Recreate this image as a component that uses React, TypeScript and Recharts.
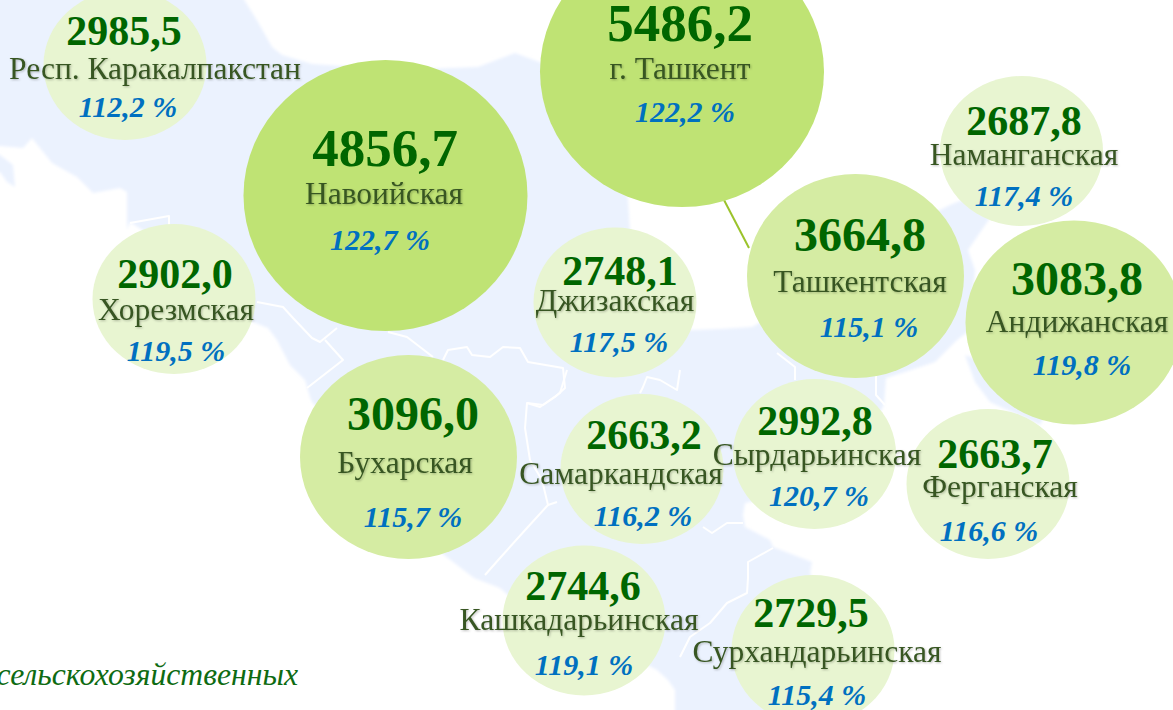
import { ScatterChart, Scatter, XAxis, YAxis, ZAxis, ReferenceLine, Polygon } from "recharts";

// region stats
const REGIONS = ["Респ. Каракалпакстан", "Навоийская", "г. Ташкент", "Наманганская", "Ташкентская", "Андижанская", "Хорезмская", "Джизакская", "Бухарская", "Самаркандская", "Сырдарьинская", "Ферганская", "Кашкадарьинская", "Сурхандарьинская"];
const VALUES = ["2985,5", "4856,7", "5486,2", "2687,8", "3664,8", "3083,8", "2902,0", "2748,1", "3096,0", "2663,2", "2992,8", "2663,7", "2744,6", "2729,5"];
const GROWTH = ["112,2 %", "122,7 %", "122,2 %", "117,4 %", "115,1 %", "119,8 %", "119,5 %", "117,5 %", "115,7 %", "116,2 %", "120,7 %", "116,6 %", "119,1 %", "115,4 %"];
const BANDS = [1, 3, 3, 1, 2, 2, 1, 1, 2, 1, 1, 1, 1, 1];

// bubble centres on the map
const MAP_X = [125, 385.5, 682, 1021.5, 855.5, 1074, 174, 615, 408.5, 642, 814.5, 988, 584, 813];
const MAP_Y = [65, 195.5, 71.5, 151, 276, 322.5, 299, 302.5, 457, 469, 454, 484, 620.5, 650];

// map backdrop outlines
const COUNTRY_X = [-10, 238, 258, 272, 282, 312, 400, 478, 515, 542, 600, 628, 630, 640, 660, 693, 720, 752, 800, 900, 950, 975, 990, 968, 975, 970, 957, 935, 905, 886, 884, 870, 760, 745, 743, 745, 770, 773, 812, 810, 840, 835, 675, 675, 668, 657, 560, 508, 500, 474, 444, 312, 310, 305, 290, 277, 268, 253, 220, 130, 127, 127, 120, 93, 77, 52, 40, 32, 23, -10];
const COUNTRY_Y = [-10, -10, 22, 47, 55, 64, 70, 67, 53, 63, 100, 200, 232, 280, 330, 330, 329, 327, 300, 230, 205, 195, 218, 250, 270, 330, 340, 362, 372, 378, 405, 430, 500, 503, 515, 527, 540, 547, 562, 573, 640, 720, 720, 690, 680, 670, 620, 595, 588, 578, 555, 402, 397, 380, 365, 340, 328, 322, 280, 222, 230, 192, 188, 193, 177, 163, 148, 138, 148, 145];
const ARAL_X = [-10, 0, 13, 15, 7, 0, -10];
const ARAL_Y = [150, 155, 165, 187, 182, 172, 172];
const VALLEY_X = [965, 975, 990, 1040, 1052, 1040];
const VALLEY_Y = [355, 382, 402, 425, 400, 380];
const BORDER_X = [
  [130, 169, 169],
  [257, 283, 293, 312, 320, 337],
  [325, 343, 307],
  [388, 407, 433],
  [443, 448, 467, 472, 490, 503, 520, 528, 563, 565, 555, 543, 527, 525, 530, 542, 548, 527, 500, 485],
  [548, 557],
  [527, 540, 560, 567],
  [640, 643, 647, 660, 677, 680],
  [703, 712, 727, 743],
  [773, 748, 748, 747, 727, 710, 690, 680],
  [777, 795, 795],
  [876, 876, 885],
];
const BORDER_Y = [
  [223, 216, 227],
  [302, 307, 318, 338, 342, 328],
  [340, 360, 388],
  [332, 337, 357],
  [360, 350, 347, 355, 357, 347, 348, 362, 368, 388, 397, 405, 403, 428, 460, 480, 505, 528, 558, 575],
  [505, 502],
  [403, 407, 393, 370],
  [393, 387, 377, 380, 390, 370],
  [527, 533, 523, 523],
  [548, 562, 578, 593, 603, 623, 637, 657],
  [353, 367, 380],
  [375, 395, 405],
];
const LEADER = [{ x: 724, y: 200 }, { x: 749, y: 248 }];

// text anchors, same order as REGIONS: centre x, baseline y
const VALUE_POS = [[124, 45], [385, 166], [680, 41], [1024, 135], [860, 251], [1077, 295], [175, 288], [620, 285], [413, 430], [644, 449], [815, 435], [995, 468], [583, 600], [811, 627]];
const NAME_POS = [[155, 79], [384, 204], [680, 79], [1024, 165], [860, 292], [1077, 332], [176, 320], [615, 311], [405, 473], [621, 484], [817, 465], [1000, 497], [579, 630], [817, 662]];
const PCT_POS = [[128, 117], [380, 250], [685, 122], [1024, 206], [869, 337], [1082, 375], [176, 361], [619, 352], [413, 527], [643, 526], [819, 506], [989, 541], [584, 675], [817, 705]];

const BAND_FILL: Record<number, string> = { 1: "#E8F5D1", 2: "#D5ECA3", 3: "#BFE374" };
const BAND_WEIGHT: Record<number, number> = { 1: 1, 2: 2, 3: 3.665 };
const VALUE_FONT: Record<number, number> = { 1: 42, 2: 48, 3: 53 };
const NAME_FONT = 31.5;
const SERIF = "'Liberation Serif', 'Times New Roman', serif";

const rows = REGIONS.map((name, i) => ({
  name,
  value: VALUES[i],
  growth: GROWTH[i],
  band: BANDS[i],
  z: BAND_WEIGHT[BANDS[i]],
  x: MAP_X[i],
  y: MAP_Y[i],
  i,
}));

const outline = (xs: number[], ys: number[]) => xs.map((x, i) => ({ x, y: ys[i] }));

function MapFill({ points }: any) {
  return <Polygon points={points} fill="#EBF2FE" stroke="none" filter="url(#mapBlur)" />;
}

// stretched a little sideways, the picture was scaled non-uniformly
function Bubble({ cx, cy, width, payload }: any) {
  const r = width / 2;
  return <ellipse cx={cx} cy={cy} rx={r + 6.5} ry={r} fill={BAND_FILL[payload.band]} />;
}

function Labels({ payload }: any) {
  const { i, band, value, name, growth } = payload;
  return (
    <g fontFamily={SERIF} textAnchor="middle">
      <text x={VALUE_POS[i][0]} y={VALUE_POS[i][1]} fontSize={VALUE_FONT[band]} fontWeight="bold" fill="#006600">{value}</text>
      <text x={NAME_POS[i][0]} y={NAME_POS[i][1]} fontSize={NAME_FONT} fill="#375623" filter="url(#soft)">{name}</text>
      <text x={PCT_POS[i][0]} y={PCT_POS[i][1]} fontSize={30} fontWeight="bold" fontStyle="italic" fill="#0070C0">{growth}</text>
    </g>
  );
}

function BottomNote() {
  return (
    <text x={298} y={685} textAnchor="end" fontFamily={SERIF} fontStyle="italic" fontSize={31.7} fill="#0E6B12">
      сельскохозяйственных
    </text>
  );
}

const noDot = () => <g />;

export default function App() {
  return (
    <div style={{ position: "fixed", left: 0, top: 0, width: 1173, height: 710, overflow: "hidden", background: "#fff" }}>
      <ScatterChart width={1173} height={710} margin={{ top: 0, right: 0, bottom: 0, left: 0 }}>
        <defs>
          <filter id="soft" x="-5%" y="-10%" width="110%" height="130%">
            <feDropShadow dx="1" dy="1" stdDeviation="1" floodColor="#000" floodOpacity="0.25" />
          </filter>
          <filter id="mapBlur" x="-5%" y="-5%" width="110%" height="110%">
            <feGaussianBlur stdDeviation="1.5" />
          </filter>
          <filter id="lineBlur" filterUnits="userSpaceOnUse" x="0" y="0" width="1173" height="710">
            <feGaussianBlur stdDeviation="0.6" />
          </filter>
        </defs>
        <XAxis type="number" dataKey="x" domain={[0, 1173]} allowDataOverflow hide />
        <YAxis type="number" dataKey="y" domain={[0, 710]} allowDataOverflow reversed hide />
        <ZAxis type="number" dataKey="z" domain={[1, 3.665]} range={[17671, 57680]} />

        <Scatter data={outline(COUNTRY_X, COUNTRY_Y)} line={MapFill} shape={noDot} isAnimationActive={false} />
        <Scatter data={outline(ARAL_X, ARAL_Y)} line={MapFill} shape={noDot} isAnimationActive={false} />
        <Scatter data={outline(VALLEY_X, VALLEY_Y)} line={MapFill} shape={noDot} isAnimationActive={false} />
        {BORDER_X.map((xs, k) => (
          <Scatter
            key={k}
            data={outline(xs, BORDER_Y[k])}
            line={{ stroke: "#fff", strokeWidth: 2, strokeLinejoin: "round", filter: "url(#lineBlur)" }}
            shape={noDot}
            isAnimationActive={false}
          />
        ))}
        <ReferenceLine segment={LEADER} stroke="#9BC32B" strokeWidth={2} />
        <Scatter data={rows} shape={Bubble} isAnimationActive={false} />
        <Scatter data={rows} shape={Labels} isAnimationActive={false} />
        <ReferenceLine segment={[{ x: 0, y: 685 }, { x: 298, y: 685 }]} stroke="none" label={<BottomNote />} />
      </ScatterChart>
    </div>
  );
}
